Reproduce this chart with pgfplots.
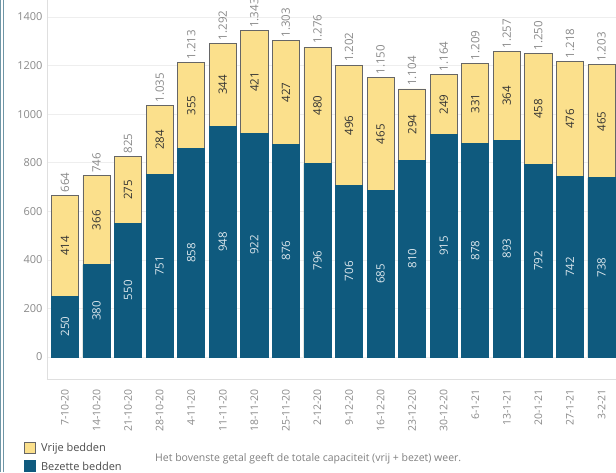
\documentclass[border=0pt]{standalone}
\usepackage{pgfplots}
\pgfplotsset{compat=1.18}
\usepackage{pgfplotstable}
\usepackage{fontspec}
\setmainfont{Open Sans}
\definecolor{bez}{HTML}{0F5A7E}
\definecolor{vrij}{HTML}{FBE08C}
\definecolor{tickgrey}{HTML}{8A8A8A}
\definecolor{gridgrey}{HTML}{EEEEEE}
\definecolor{bordc}{HTML}{6F96A6}
\pgfplotstableread{
i bez vrij tot
0 250 414 664
1 380 366 746
2 550 275 825
3 751 284 1035
4 858 355 1213
5 948 344 1292
6 922 421 1343
7 876 427 1303
8 796 480 1276
9 706 496 1202
10 685 465 1150
11 810 294 1104
12 915 249 1164
13 878 331 1209
14 893 364 1257
15 792 458 1250
16 742 476 1218
17 738 465 1203
}\data
\begin{document}
\begin{tikzpicture}
\useasboundingbox (-47pt,-93pt) rectangle (569pt,379pt);
\clip (-47pt,-93pt) rectangle (569pt,379pt);
\fill[white] (-47pt,-93pt) rectangle (569pt,379pt);
\begin{axis}[
  at={(0,0)}, anchor=south west,
  scale only axis, width=593pt, height=379pt,
  xmin=-0.57, xmax=18.22, ymin=-90.6, ymax=1470,
  clip=false,
  axis x line*=bottom, axis y line*=left,
  axis line style={draw=gray!25},
  ytick={0,200,...,1400},
  ymajorgrids, grid style={draw=gridgrey, line width=0.6pt},
  major tick length=0pt,
  /pgf/number format/assume math mode=true,
  /pgf/number format/1000 sep={},
  yticklabel style={font=\fontsize{11}{13}\selectfont, color=tickgrey, xshift=-1pt},
  xtick={0,...,17},
  xticklabels={7-10-20,14-10-20,21-10-20,28-10-20,4-11-20,11-11-20,18-11-20,25-11-20,2-12-20,9-12-20,16-12-20,23-12-20,30-12-20,6-1-21,13-1-21,20-1-21,27-1-21,3-2-21},
  xticklabel style={rotate=90, anchor=east, inner sep=0pt, font=\fontsize{10.5}{12}\selectfont, color=tickgrey},
  xticklabel shift=10pt,
  legend style={at={(-0.0385,-0.163)}, anchor=north west, draw=none, fill=none,
    font=\fontsize{11}{13}\selectfont, text=black!70, row sep=5pt, inner sep=0pt},
  legend cell align=left,
  legend image code/.code={\draw[#1] (0pt,-0.5em) rectangle (1.1em,0.6em); \path (1.4em,0pt);},
]
\addplot[ybar, bar width=0.86, bar shift=0pt, fill=vrij, draw=gray!80!black, line width=0.7pt] table[x=i, y=tot] {\data};
\addlegendentry{Vrije bedden}
\addplot[ybar, bar width=0.86, bar shift=0pt, fill=bez, draw=bez, line width=0.7pt] table[x=i, y=bez] {\data};
\addlegendentry{Bezette bedden}
% labels
\addplot[draw=none, mark=none, forget plot, nodes near coords, point meta=explicit,
  every node near coord/.append style={rotate=90, anchor=center, font=\fontsize{11.5}{13}\selectfont, color=white!85!bez}]
  table[x=i, y expr=\thisrow{bez}/2, meta=bez] {\data};
\addplot[draw=none, mark=none, forget plot, nodes near coords, point meta=explicit,
  every node near coord/.append style={rotate=90, anchor=center, font=\fontsize{11.5}{13}\selectfont, color=black!80}]
  table[x=i, y expr=\thisrow{bez}+\thisrow{vrij}/2, meta=vrij] {\data};
\addplot[draw=none, mark=none, forget plot, nodes near coords, point meta=explicit,
  every node near coord/.append style={rotate=90, anchor=west, inner sep=3pt, font=\fontsize{11.5}{13}\selectfont, color=tickgrey, /pgf/number format/1000 sep={.}}]
  table[x=i, y=tot, meta=tot] {\data};
\end{axis}
\node[anchor=west, inner sep=0pt, font=\fontsize{10.5}{12}\selectfont, text=black!50] at (108pt,-80pt) {Het bovenste getal geeft de totale capaciteit (vrij + bezet) weer.};
\draw[bordc, line width=1pt] (-46pt,-93pt) -- (-46pt,379pt);
\draw[bordc, line width=1pt] (-43pt,-93pt) -- (-43pt,379pt);
\end{tikzpicture}
\end{document}
